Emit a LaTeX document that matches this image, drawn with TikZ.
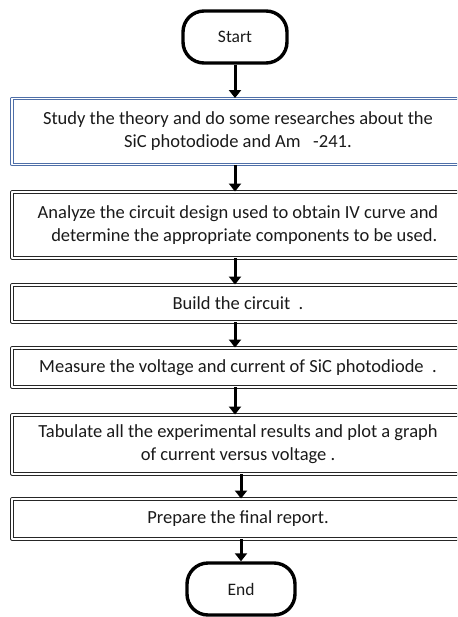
\documentclass[tikz,border=0pt]{standalone}
\usepackage{fontspec}
\setmainfont{Carlito}
\usetikzlibrary{arrows.meta}
\definecolor{boxblue}{HTML}{4F6FA8}
\definecolor{ink}{HTML}{1A1A1A}
\tikzset{
  every picture/.style={line join=round},
  terminal/.style={draw=black, line width=3.4pt, rounded corners=21pt,
    minimum width=104pt, minimum height=52pt, font=\fontsize{17.5}{21}\selectfont, text=ink},
  stepbox/.style={draw=black!85, double=white, double distance=1.3pt, line width=0.9pt,
    minimum width=452pt, align=center, font=\fontsize{18.5}{23}\selectfont, text=ink},
  flow/.style={line width=3pt, -{Triangle[length=8pt,width=12pt]}},
}
\begin{document}
\begin{tikzpicture}[x=1pt, y=-1pt]
    \clip (0,0) rectangle (457,617);
    \useasboundingbox (0,0) rectangle (457,617);
    % Terminals
    \node[terminal] (start) at (235,37) {Start};
    \node[terminal, minimum width=108pt] (stop) at (241,589) {End};
    % Steps
    \node[stepbox, draw=boxblue, minimum height=66pt] (study) at (238,131.5)
      {Study the theory and do some researches about the\\SiC photodiode and Am\ \ \ -241.};
    \node[stepbox, minimum height=66pt] (analyze) at (238,225)
      {Analyze the circuit design used to obtain IV curve and\\\ \ \ determine the appropriate components to be used.};
    \node[stepbox, minimum height=37pt] (build) at (238,303.5) {Build the circuit\ \ .};
    \node[stepbox, minimum height=39pt] (measure) at (238,367.5) {Measure the voltage and current of SiC photodiode\ \ .};
    \node[stepbox, minimum height=59pt] (tabulate) at (238,444.5)
      {Tabulate all the experimental results and plot a graph\\of current versus voltage .};
    \node[stepbox, minimum height=40pt] (report) at (238,519) {Prepare the final report.};
    % Arrows
    \draw[flow] (start.south) -- (start.south |- study.north);
    \draw[flow] (study.south -| start) -- (analyze.north -| start);
    \draw[flow] (analyze.south -| start) -- (build.north -| start);
    \draw[flow] (build.south -| start) -- (measure.north -| start);
    \draw[flow] (measure.south -| start) -- (tabulate.north -| start);
    \draw[flow] (tabulate.south -| stop) -- (report.north -| stop);
    \draw[flow] (report.south -| stop) -- (stop.north);
\end{tikzpicture}
\end{document}
